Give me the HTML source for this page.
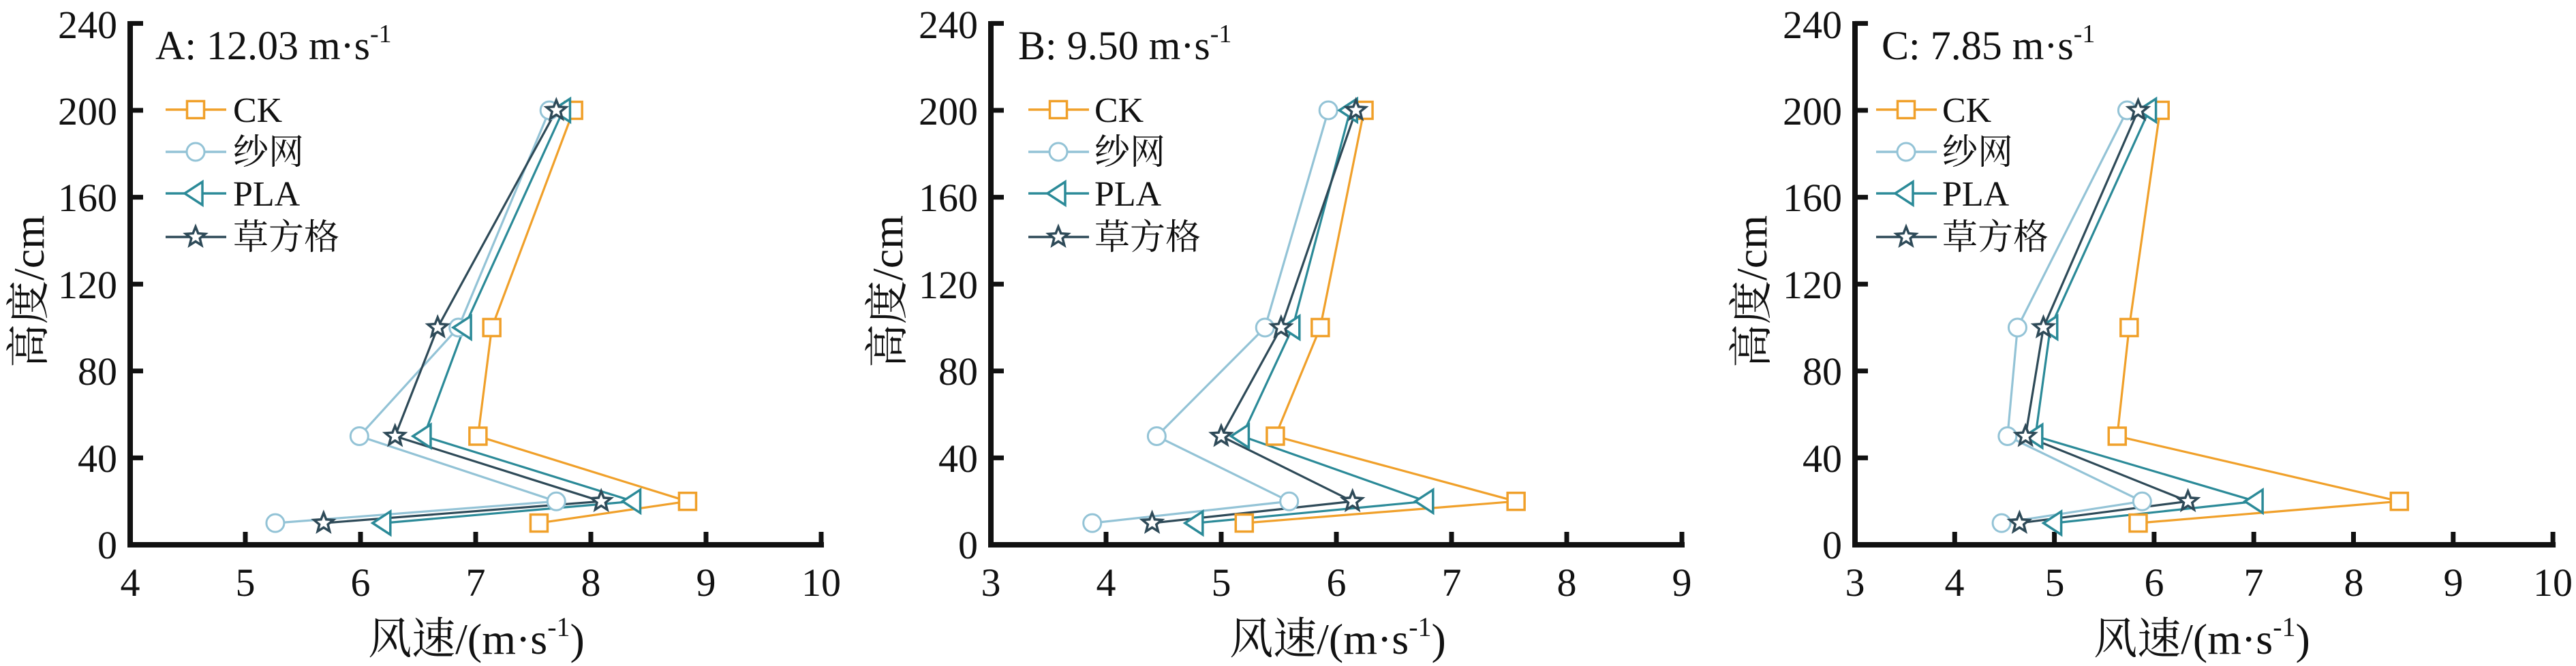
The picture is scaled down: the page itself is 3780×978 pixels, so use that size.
<!DOCTYPE html>
<html><head><meta charset="utf-8">
<style>
html,body{margin:0;padding:0;background:#fff;}
svg{display:block;font-family:"Liberation Serif","Times New Roman","Noto Serif CJK SC",serif;}
text{font-family:"Liberation Serif","Times New Roman","Noto Serif CJK SC",serif;fill:#111;}
</style></head>
<body>
<svg id="s" width="3780" height="978" viewBox="0 0 3780 978" xmlns="http://www.w3.org/2000/svg" font-family="Liberation Serif, Noto Serif CJK SC, serif">
<g id="plots"></g>
<g font-size="58" text-anchor="end">
<text x="172" y="820">0</text><text x="172" y="693">40</text><text x="172" y="565">80</text><text x="172" y="438">120</text><text x="172" y="310">160</text><text x="172" y="183">200</text><text x="172" y="56">240</text>
<text x="1435" y="820">0</text><text x="1435" y="693">40</text><text x="1435" y="565">80</text><text x="1435" y="438">120</text><text x="1435" y="310">160</text><text x="1435" y="183">200</text><text x="1435" y="56">240</text>
<text x="2703" y="820">0</text><text x="2703" y="693">40</text><text x="2703" y="565">80</text><text x="2703" y="438">120</text><text x="2703" y="310">160</text><text x="2703" y="183">200</text><text x="2703" y="56">240</text>
</g>
<g font-size="58" text-anchor="middle">
<text x="191" y="875">4</text><text x="360" y="875">5</text><text x="529" y="875">6</text><text x="698" y="875">7</text><text x="867" y="875">8</text><text x="1036" y="875">9</text><text x="1205" y="875">10</text>
<text x="1454" y="875">3</text><text x="1623" y="875">4</text><text x="1792" y="875">5</text><text x="1961" y="875">6</text><text x="2130" y="875">7</text><text x="2299" y="875">8</text><text x="2468" y="875">9</text>
<text x="2722" y="875">3</text><text x="2868" y="875">4</text><text x="3015" y="875">5</text><text x="3161" y="875">6</text><text x="3307" y="875">7</text><text x="3454" y="875">8</text><text x="3600" y="875">9</text><text x="3746" y="875">10</text>
</g>
<g font-size="60">
<text x="228" y="87">A: 12.03 m·s<tspan font-size="38" dy="-25">-1</tspan></text>
<text x="1494" y="87">B: 9.50 m·s<tspan font-size="38" dy="-25">-1</tspan></text>
<text x="2761" y="87">C: 7.85 m·s<tspan font-size="38" dy="-25">-1</tspan></text>
</g>
<g font-size="52">
<text x="342" y="179">CK</text><text x="342" y="241">纱网</text><text x="342" y="302">PLA</text><text x="342" y="366">草方格</text>
<text x="1606" y="179">CK</text><text x="1606" y="241">纱网</text><text x="1606" y="302">PLA</text><text x="1606" y="366">草方格</text>
<text x="2850" y="179">CK</text><text x="2850" y="241">纱网</text><text x="2850" y="302">PLA</text><text x="2850" y="366">草方格</text>
</g>
<g font-size="64" text-anchor="middle">
<text x="699" y="960">风速/(m·s<tspan font-size="40" dy="-26">-1</tspan><tspan dy="26">)</tspan></text>
<text x="1963" y="960">风速/(m·s<tspan font-size="40" dy="-26">-1</tspan><tspan dy="26">)</tspan></text>
<text x="3231" y="960">风速/(m·s<tspan font-size="40" dy="-26">-1</tspan><tspan dy="26">)</tspan></text>
<text transform="translate(64,428) rotate(-90)">高度/cm</text>
<text transform="translate(1324,428) rotate(-90)">高度/cm</text>
<text transform="translate(2592,428) rotate(-90)">高度/cm</text>
</g>
</svg>
<script>
var NS="http://www.w3.org/2000/svg",G=document.getElementById("plots");
function el(t,a){var e=document.createElementNS(NS,t);for(var k in a)e.setAttribute(k,a[k]);G.appendChild(e);return e;}
var H=[200,100,50,20,10];
var cols=["#f0a02a","#93c3d6","#2b8a98","#2e4a58"];
function Y(v){return 800-v*3.19;}
function marker(type,x,y,c){
 if(type==0)el("rect",{x:x-12.5,y:y-12.5,width:25,height:25,fill:"#fff",stroke:c,"stroke-width":3.5});
 else if(type==1)el("circle",{cx:x,cy:y,r:13,fill:"#fff",stroke:c,"stroke-width":3});
 else if(type==2)el("polygon",{points:(x-16)+","+y+" "+(x+10)+","+(y-17)+" "+(x+10)+","+(y+17),fill:"#fff",stroke:c,"stroke-width":3.5});
 else{var p=[];for(var i=0;i<10;i++){var r=i%2?6.5:15,a=-Math.PI/2+i*Math.PI/5;p.push((x+r*Math.cos(a)).toFixed(1)+","+(y+r*Math.sin(a)).toFixed(1));}
 el("polygon",{points:p.join(" "),fill:"#fff",stroke:c,"stroke-width":3.5});}
}
var P=[
 {x0:191,u:169,min:4,n:6,lx:243,d:[[7.85,7.14,7.02,8.84,7.55],[7.64,6.85,5.99,7.70,5.26],[7.76,6.9,6.55,8.37,6.2],[7.70,6.67,6.30,8.09,5.68]]},
 {x0:1454,u:169,min:3,n:6,lx:1509,d:[[6.24,5.86,5.47,7.56,5.20],[5.93,5.38,4.44,5.59,3.88],[6.12,5.62,5.18,6.78,4.78],[6.17,5.52,5.0,6.14,4.4]]},
 {x0:2722,u:146.3,min:3,n:7,lx:2753,d:[[6.06,5.75,5.63,8.46,5.84],[5.73,4.63,4.53,5.88,4.47],[5.95,4.96,4.81,7.02,5.0],[5.84,4.89,4.71,6.34,4.65]]}
];
P.forEach(function(p){
 var xe=p.x0+p.n*p.u;
 el("line",{x1:p.x0,y1:31,x2:p.x0,y2:804,stroke:"#111","stroke-width":8});
 el("line",{x1:p.x0-4,y1:800,x2:xe+4,y2:800,stroke:"#111","stroke-width":8});
 for(var i=1;i<=p.n;i++){var x=p.x0+i*p.u;el("line",{x1:x,y1:800,x2:x,y2:781,stroke:"#111","stroke-width":7});}
 for(var v=40;v<=240;v+=40){el("line",{x1:p.x0,y1:Y(v),x2:p.x0+19,y2:Y(v),stroke:"#111","stroke-width":7});}
 [161,223,284,348].forEach(function(ly,k){
  el("line",{x1:p.lx,y1:ly,x2:p.lx+89,y2:ly,stroke:cols[k],"stroke-width":3.5});
  marker(k,p.lx+44,ly,cols[k]);
 });
 p.d.forEach(function(s,k){
  var pts=s.map(function(v,j){return (p.x0+(v-p.min)*p.u).toFixed(1)+","+Y(H[j]).toFixed(1);});
  el("polyline",{points:pts.join(" "),fill:"none",stroke:cols[k],"stroke-width":3.2});
 });
 p.d.forEach(function(s,k){
  s.forEach(function(v,j){marker(k,p.x0+(v-p.min)*p.u,Y(H[j]),cols[k]);});
 });
});
</script>
</body></html>
